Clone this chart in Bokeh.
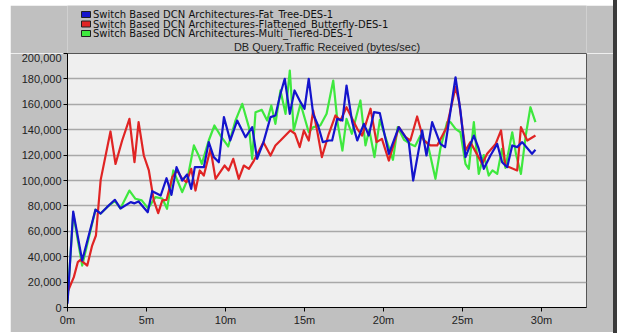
from bokeh.plotting import figure
from bokeh.models import FixedTicker, NumeralTickFormatter, Range1d, Div
from bokeh.core.properties import value
from bokeh.layouts import row, column
from bokeh.embed import file_html
from bokeh.resources import INLINE

# DB Query traffic received (bytes/sec) over simulated time (minutes)
fat_tree_t = [0, 0.36, 0.93, 1.77, 2.1, 2.5, 3.0, 3.35, 4.0, 4.24, 4.5, 5.08, 5.36, 5.9,
              6.27, 6.58, 6.9, 7.26, 7.57, 7.83, 8.06, 8.4, 8.63, 8.94, 9.26, 9.58, 9.9,
              10.3, 10.74, 11.27, 11.69, 12.0, 12.4, 12.85, 13.16, 13.48, 13.75, 14.07,
              14.37, 14.75, 15.0, 15.27, 15.55, 15.86, 16.16, 16.54, 16.75, 17.07, 17.4,
              17.66, 18.02, 18.34, 18.76, 19.07, 19.4, 19.77, 20.34, 20.97, 21.6, 21.88,
              22.45, 22.72, 23.08, 23.6, 23.9, 24.56, 24.87, 25.19, 25.72, 26.03, 26.35,
              26.77, 27.2, 27.51, 27.83, 28.15, 28.46, 28.78, 29.4, 29.62]
fat_tree_v = [3000, 75600, 37000, 77000, 74000, 79000, 84800, 78000, 83000, 82000, 83500,
              75000, 91600, 88200, 101800, 88700, 110500, 100000, 104700, 93400, 110500,
              110500, 110500, 130200, 118400, 114400, 149900, 131500, 147200, 134100,
              142000, 117100, 130000, 149900, 151200, 168300, 180100, 152500, 170900,
              161700, 156500, 180100, 152500, 143300, 130200, 131500, 131500, 148600,
              147200, 174800, 146000, 131500, 144600, 135400, 153800, 153000, 121000,
              142000, 130200, 100000, 139400, 119700, 146000, 128800, 126300, 181300,
              155100, 118400, 135400, 125000, 109200, 119700, 128800, 114400, 110500,
              127600, 126300, 130200, 121000, 124200]

butterfly_t = [0, 0.4, 0.65, 0.82, 1.25, 1.56, 1.8, 2.1, 2.72, 3.04, 3.46, 3.92, 4.24, 4.5,
               4.83, 5.15, 5.46, 5.74, 6.0, 6.27, 6.63, 6.94, 7.26, 7.53, 7.83, 8.1, 8.37,
               8.63, 9.05, 9.37, 9.94, 10.2, 10.49, 10.84, 11.16, 11.48, 11.8, 12.4, 12.85,
               13.16, 13.48, 14.1, 14.4, 14.7, 14.96, 15.27, 15.55, 15.8, 16.1, 16.54,
               16.96, 17.28, 17.66, 18.02, 18.34, 18.65, 19.18, 19.56, 19.9, 20.34, 20.97,
               21.4, 21.7, 22.13, 22.55, 22.97, 23.4, 24.0, 24.56, 24.77, 25.19, 25.5,
               26.25, 26.56, 27.1, 27.44, 27.72, 28.46, 28.7, 29.1, 29.62]
butterfly_v = [12000, 23900, 35700, 37500, 33000, 48800, 56700, 100500, 138600, 113000,
               131500, 148600, 114400, 146000, 119700, 107900, 84300, 74300, 84300, 84800,
               102600, 107900, 101300, 98700, 109200, 92100, 107900, 103900, 125000,
               101300, 111800, 107900, 117100, 101300, 111800, 109200, 115700, 130200,
               119700, 127600, 131500, 139400, 136800, 126300, 139400, 131500, 155100,
               139400, 118400, 136800, 151200, 147200, 157700, 148600, 140700, 135400,
               156500, 130200, 132800, 115700, 142000, 134100, 131500, 150400, 131500,
               127600, 127600, 142000, 173500, 163000, 123600, 130200, 113100, 121000,
               128800, 139400, 111800, 107900, 142000, 131500, 135400]

multi_tier_t = [0, 0.36, 0.93, 1.77, 2.1, 2.5, 3.0, 3.35, 3.92, 4.3, 4.7, 5.1, 5.57, 6.0,
                6.3, 6.7, 7.26, 7.57, 8.0, 8.3, 8.5, 8.94, 9.3, 9.68, 10.17, 10.63, 11.06,
                11.48, 11.69, 11.9, 12.3, 12.64, 12.9, 13.16, 13.48, 13.8, 14.07, 14.32,
                14.75, 15.27, 15.55, 16.0, 16.4, 16.82, 17.1, 17.4, 17.66, 18.0, 18.54,
                18.86, 19.1, 19.43, 19.77, 20.1, 20.6, 20.9, 21.3, 21.7, 22.0, 22.34,
                22.8, 23.29, 23.6, 24.03, 24.24, 24.56, 24.87, 25.19, 25.4, 25.72, 26.03,
                26.35, 26.66, 26.9, 27.2, 27.5, 27.72, 28.15, 28.4, 28.7, 29.0, 29.3,
                29.62]
multi_tier_v = [5000, 74000, 33000, 77000, 74000, 79000, 84000, 78000, 92100, 85600,
                84300, 78000, 86900, 85800, 77700, 107900, 90800, 100000, 127600, 119700,
                113100, 131500, 143300, 135400, 126800, 147200, 160400, 142000, 117100,
                153800, 155600, 147200, 159100, 144600, 170900, 152500, 186600, 139400,
                160400, 138000, 142000, 143300, 152500, 178700, 145000, 123600, 148600,
                136800, 163000, 127600, 140000, 118400, 147800, 135000, 116300, 142000,
                132000, 128800, 127000, 135400, 128800, 101300, 125000, 146000, 146000,
                140700, 138000, 113100, 109200, 146000, 105200, 120000, 103900, 108000,
                105200, 125000, 110000, 138000, 120000, 105200, 135000, 157700, 146000]

series_names = ["Switch Based DCN Architectures-Fat_Tree-DES-1",
                "Switch Based DCN Architectures-Flattened_Butterfly-DES-1",
                "Switch Based DCN Architectures-Multi_Tiered-DES-1"]
series_colors = ["#1414cc", "#e02424", "#3ee83e"]
chart_title = "DB Query.Traffic Received (bytes/sec)"

x_ticks = [0, 5, 10, 15, 20, 25, 30]
x_tick_labels = ["0m", "5m", "10m", "15m", "20m", "25m", "30m"]
y_ticks = list(range(0, 200001, 20000))

FONT = "Liberation Sans"
LEGEND_FONT = "DejaVu Sans"
PANEL = "#c0c0c0"
W = 603
FRAME_L, FRAME_R = 67, 586   # page-pixel extent shared by both stacked frames

# ---- header strip: legend rows and chart title, in page-pixel units ----
HEAD_H = 48
head = figure(width=W, height=HEAD_H, output_backend="svg", toolbar_location=None,
              x_range=Range1d(FRAME_L, FRAME_R), y_range=Range1d(0, HEAD_H),
              x_axis_type=None, y_axis_type=None,
              min_border=0, margin=(5, 0, 0, 10))
head.border_fill_color = PANEL
head.background_fill_color = PANEL
head.outline_line_color = None
head.grid.grid_line_color = None

row_y = [HEAD_H - 9 - 9.5 * i for i in range(len(series_names))]
head.rect(x=[85.5] * 3, y=row_y, width=9, height=6, fill_color=series_colors,
          line_color="#202020", line_width=1)
head.text(x=[92.5] * 3, y=row_y, text=series_names, text_font=value(LEGEND_FONT),
          text_font_size="10px", text_baseline="middle", text_align="left",
          text_color="#111111")
head.text(x=[(FRAME_L + FRAME_R) / 2], y=[7], text=[chart_title], text_font=value(FONT),
          text_font_size="11px", text_baseline="middle", text_align="center",
          text_color="#222222")

# ---- main chart ----
p = figure(width=W, height=279, output_backend="svg", toolbar_location=None,
           x_range=Range1d(0, 32.85), y_range=Range1d(0, 200000),
           min_border_left=57, min_border_right=27, min_border_top=0,
           min_border_bottom=25, margin=(0, 0, 1, 10))

p.border_fill_color = PANEL
p.background_fill_color = "#efefef"
p.outline_line_color = "#555555"
p.outline_line_width = 1

p.xgrid.grid_line_color = None
p.ygrid.grid_line_color = "#a8a8a8"
p.ygrid.grid_line_width = 1.6

p.xaxis.ticker = FixedTicker(ticks=x_ticks)
p.xaxis.major_label_overrides = {t: lab for t, lab in zip(x_ticks, x_tick_labels)}
p.yaxis.ticker = FixedTicker(ticks=y_ticks)
p.yaxis.formatter = NumeralTickFormatter(format="0,0")

for ax in (p.xaxis[0], p.yaxis[0]):
    ax.axis_line_color = "#000000"
    ax.axis_line_width = 1
    ax.major_tick_line_color = "#000000"
    ax.major_tick_in = 0
    ax.major_tick_out = 4
    ax.minor_tick_line_color = None
    ax.major_label_text_font = FONT
    ax.major_label_text_font_size = "11px"
    ax.major_label_text_color = "#222222"
    ax.major_label_standoff = 2

# Lines: Multi-tiered drawn first, Fat-tree on top
series = [(fat_tree_t, fat_tree_v), (butterfly_t, butterfly_v), (multi_tier_t, multi_tier_v)]
for idx in (2, 1, 0):
    t, v = series[idx]
    p.line(t, v, line_color=series_colors[idx], line_width=2.2, line_join="round")

edge = Div(width=4, height=333, margin=0, styles={"background-color": "#3a3a3a"})

layout = row(column(head, p, spacing=0), edge, spacing=0)

open("out.html", "w").write(file_html(layout, INLINE))
